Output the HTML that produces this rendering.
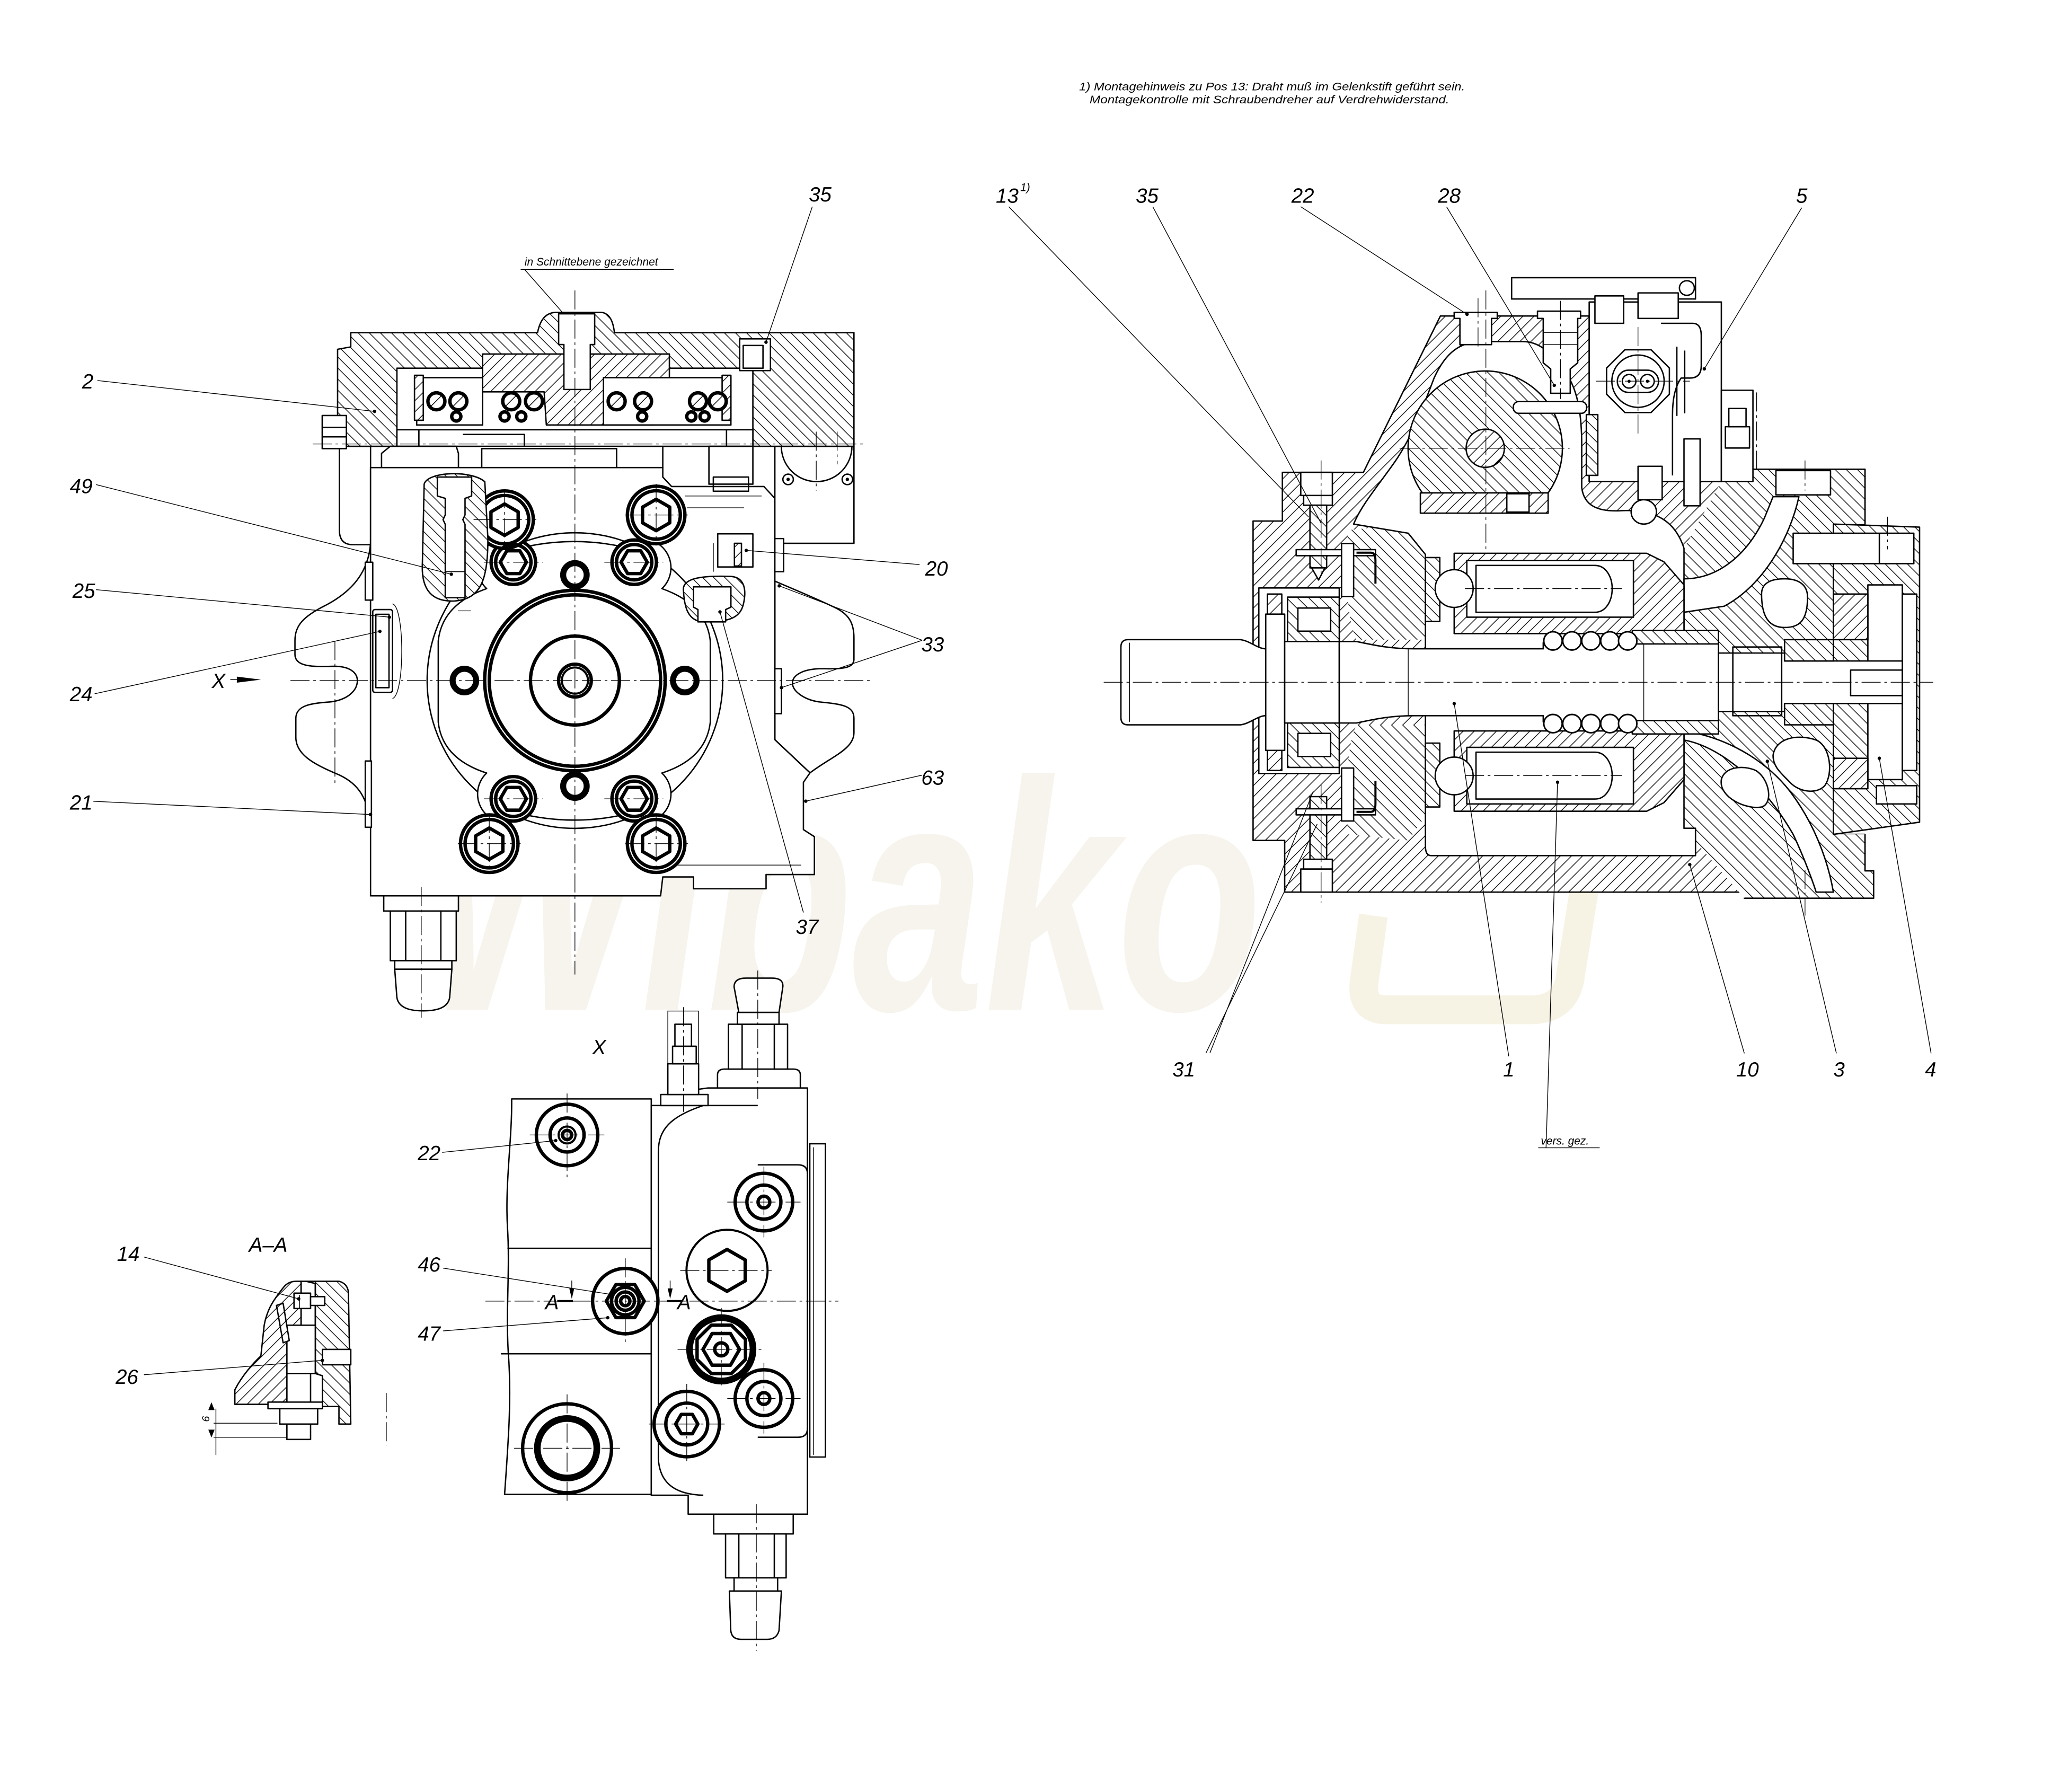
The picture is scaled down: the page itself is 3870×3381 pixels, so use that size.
<!DOCTYPE html>
<html><head><meta charset="utf-8"><style>
html,body{margin:0;padding:0;background:#fff}
svg{display:block}
.s{stroke:#000;stroke-width:2.6;vector-effect:non-scaling-stroke;stroke-linejoin:round}
.o{fill:none;stroke:#000;stroke-width:2.6;vector-effect:non-scaling-stroke;stroke-linejoin:round}
.t{fill:none;stroke:#000;stroke-width:1.4;vector-effect:non-scaling-stroke}
.c{fill:none;stroke:#000;stroke-width:1.3;stroke-dasharray:36 7 5 7;vector-effect:non-scaling-stroke}
.k{fill:none;stroke:#000;stroke-width:4;vector-effect:non-scaling-stroke}
.l{font-family:"Liberation Sans",sans-serif;font-style:italic;font-size:15.6px;fill:#000;text-anchor:middle}
.n{font-family:"Liberation Sans",sans-serif;font-style:italic;font-size:8.5px;fill:#000}
</style></head><body>
<svg xmlns="http://www.w3.org/2000/svg" width="3870" height="3381" viewBox="0 0 1568 1370">
<defs>
<pattern id="hA" patternUnits="userSpaceOnUse" width="6" height="6" patternTransform="rotate(45)"><rect width="6" height="6" fill="#fff"/><line x1="3" y1="-1" x2="3" y2="7" stroke="#000" stroke-width="0.55"/></pattern>
<pattern id="hB" patternUnits="userSpaceOnUse" width="6" height="6" patternTransform="rotate(-45)"><rect width="6" height="6" fill="#fff"/><line x1="3" y1="-1" x2="3" y2="7" stroke="#000" stroke-width="0.55"/></pattern>
<pattern id="hLA" patternUnits="userSpaceOnUse" width="6" height="6" patternTransform="scale(2.976 2.764) rotate(45)"><rect width="6" height="6" fill="#fff"/><line x1="3" y1="-1" x2="3" y2="7" stroke="#000" stroke-width="0.55"/></pattern>
<pattern id="hLB" patternUnits="userSpaceOnUse" width="6" height="6" patternTransform="scale(2.976 2.764) rotate(-45)"><rect width="6" height="6" fill="#fff"/><line x1="3" y1="-1" x2="3" y2="7" stroke="#000" stroke-width="0.55"/></pattern>
<pattern id="hRA" patternUnits="userSpaceOnUse" width="6" height="6" patternTransform="scale(2.276 2.150) rotate(45)"><rect width="6" height="6" fill="#fff"/><line x1="3" y1="-1" x2="3" y2="7" stroke="#000" stroke-width="0.55"/></pattern>
<pattern id="hRB" patternUnits="userSpaceOnUse" width="6" height="6" patternTransform="scale(2.276 2.150) rotate(-45)"><rect width="6" height="6" fill="#fff"/><line x1="3" y1="-1" x2="3" y2="7" stroke="#000" stroke-width="0.55"/></pattern>
<pattern id="hXA" patternUnits="userSpaceOnUse" width="6" height="6" patternTransform="scale(2.764 2.977) rotate(45)"><rect width="6" height="6" fill="#fff"/><line x1="3" y1="-1" x2="3" y2="7" stroke="#000" stroke-width="0.55"/></pattern>
<pattern id="hXB" patternUnits="userSpaceOnUse" width="6" height="6" patternTransform="scale(2.764 2.977) rotate(-45)"><rect width="6" height="6" fill="#fff"/><line x1="3" y1="-1" x2="3" y2="7" stroke="#000" stroke-width="0.55"/></pattern>
</defs>
<rect width="1568" height="1370" fill="#fff"/>
<text x="320" y="772" font-family="Liberation Sans,sans-serif" font-weight="bold" font-style="italic" font-size="250" fill="#f6f4ec" textLength="645" lengthAdjust="spacingAndGlyphs">Wibako</text>
<path d="M1075,615 Q1060,600 1080,600 L1200,600 Q1225,600 1220,625 L1200,750 Q1195,772 1170,772 L1060,772 Q1040,772 1043,750 L1050,700" fill="none" stroke="#f7f3e4" stroke-width="22"/>

<!-- top note -->
<text class="n" x="825" y="69" textLength="295" lengthAdjust="spacingAndGlyphs">1) Montagehinweis zu Pos 13: Draht muß im Gelenkstift geführt sein.</text>
<text class="n" x="833" y="79" textLength="275" lengthAdjust="spacingAndGlyphs">Montagekontrolle mit Schraubendreher auf Verdrehwiderstand.</text>

<!-- ================= LEFT VIEW ================= -->
<g transform="translate(202.6 162.1) scale(0.336 0.3618)">
 <path class="s" fill="#fff" d="M169,495 L240,495 L240,703 L200,703 Q169,703 169,672 Z"/>
 <path class="s" fill="#fff" d="M240,700 C235,760 200,800 140,830 C85,855 68,875 68,905 L68,935 C68,958 100,962 150,960 C195,958 210,975 210,990 C210,1010 190,1030 150,1035 C105,1038 70,1042 70,1070 L70,1110 C70,1150 120,1170 170,1190 C215,1210 232,1240 240,1290 Z"/>
 <path class="s" fill="#fff" d="M1160,780 C1210,800 1250,815 1295,835 C1330,850 1340,870 1340,900 L1340,945 C1340,968 1300,965 1260,965 C1215,967 1200,983 1200,995 C1200,1012 1225,1030 1260,1035 C1310,1040 1340,1042 1340,1070 L1340,1100 C1340,1135 1290,1150 1240,1185 L1160,1115 Z"/>
 <path class="s" fill="#fff" d="M240,540 L905,540 L905,560 L925,580 L1135,580 L1160,605 L1160,1115 L1240,1185 L1225,1205 L1225,1305 L1250,1320 L1250,1400 L1140,1400 L1140,1430 L975,1430 L975,1405 L905,1405 L900,1445 L240,1445 Z"/>
 <rect class="s" fill="#fff" x="1160" y="495" width="180" height="205"/>
 <path class="s" fill="url(#hLB)" d="M165,290 L195,285 L195,255 L620,255 C625,232 635,214 660,212 L765,212 C785,214 792,232 795,255 L1340,255 L1340,495 L1110,495 L1110,330 L300,330 L300,495 L165,495 Z"/>
 <path class="s" fill="url(#hLA)" d="M495,300 L920,300 L920,380 L895,380 L885,450 L640,450 L635,380 L495,380 Z"/>
 <path class="s" fill="#fff" d="M668,215 L750,215 L750,280 L740,280 L740,375 L680,375 L680,280 L668,280 Z"/>
 <rect class="s" fill="#fff" x="345" y="350" width="150" height="100"/>
 <rect class="s" fill="#fff" x="770" y="350" width="290" height="100"/>
 <rect class="s" fill="url(#hLA)" x="340" y="345" width="20" height="95"/>
 <rect class="s" fill="url(#hLA)" x="1040" y="345" width="20" height="95"/>
 <rect class="s" fill="#fff" x="1080" y="268" width="70" height="67"/>
 <rect class="o" x="1088" y="282" width="45" height="48"/>
 <rect class="s" fill="#fff" x="300" y="460" width="810" height="35"/>
 <path class="o" d="M350,460 L350,495 M1050,460 L1050,495 M450,470 L590,470 L590,495"/>
 <rect class="s" fill="#fff" x="130" y="430" width="55" height="70"/>
 <path class="o" d="M130,455 L185,455 M130,475 L185,475"/>
 <path class="s" fill="#fff" d="M265,540 L265,510 L285,495 L435,495 L440,510 L440,540 Z"/>
 <rect class="s" fill="#fff" x="1010" y="495" width="100" height="80"/>
 <rect class="o" x="1020" y="560" width="80" height="30"/>
 <path class="o" d="M493,540 L493,500 L800,500 L800,540 M905,540 L905,495"/>
 <rect class="s" fill="#fff" x="270" y="1445" width="170" height="32"/>
 <rect class="s" fill="#fff" x="285" y="1477" width="150" height="105"/>
 <path class="o" d="M320,1477 L320,1582 M400,1477 L400,1582"/>
 <rect class="s" fill="#fff" x="295" y="1582" width="130" height="18"/>
 <path class="s" fill="#fff" d="M295,1600 L425,1600 L420,1660 Q415,1688 360,1688 Q305,1688 300,1660 Z"/>
 <rect class="s" fill="#fff" x="228" y="740" width="17" height="80"/>
 <rect class="s" fill="#fff" x="228" y="1160" width="14" height="140"/>
 <rect class="s" fill="#fff" x="1160" y="690" width="20" height="70"/>
 <rect class="s" fill="#fff" x="1160" y="965" width="15" height="95"/>
 <rect class="s" fill="#fff" x="1030" y="680" width="80" height="70"/>
 <rect class="s" fill="url(#hLA)" x="1068" y="700" width="16" height="48"/>
 <path class="t" d="M290,828 C318,835 318,1020 290,1028"/>
 <rect class="s" fill="#fff" x="245" y="840" width="45" height="175" rx="5"/>
 <rect class="o" x="252" y="850" width="30" height="155"/>
 <path class="t" d="M955,600 L1130,600 M960,625 L1090,625 M1020,700 L1020,760"/>
 <path class="t" d="M910,1380 L1220,1380"/>
</g>

<!-- flange and circles -->
<circle class="s" fill="#fff" cx="439.5" cy="520.3" r="113"/>
<path class="s" fill="#fff" d="M335,490 Q338,462 372,450 A20,20 0 0 1 402,418 Q439,410 476,418 A20,20 0 0 1 506,450 Q540,462 543,490 L543,552 Q540,580 506,591 A20,20 0 0 1 476,623 Q439,631 402,623 A20,20 0 0 1 372,591 Q338,580 335,552 Z"/>
<g class="o">
 <circle cx="439.5" cy="520.3" r="69"/><circle cx="439.5" cy="520.3" r="65.5"/>
 <circle cx="439.5" cy="520.3" r="34"/><circle cx="439.5" cy="520.3" r="12.5"/>
 <circle cx="439.5" cy="439.5" r="10"/><circle cx="439.5" cy="439.5" r="8"/>
 <circle cx="439.5" cy="601" r="10"/><circle cx="439.5" cy="601" r="8"/>
 <circle cx="355" cy="520.3" r="10"/><circle cx="355" cy="520.3" r="8"/>
 <circle cx="523.5" cy="520.3" r="10"/><circle cx="523.5" cy="520.3" r="8"/>
</g>
<circle class="k" cx="439.5" cy="520.3" r="10"/>
<g class="s" fill="#fff">
 <circle cx="392.4" cy="429.8" r="17"/><circle cx="484.8" cy="429.8" r="17"/>
 <circle cx="392.4" cy="610.7" r="17"/><circle cx="484.8" cy="610.7" r="17"/>
 <circle cx="385.7" cy="397.3" r="22"/><circle cx="501.6" cy="393.7" r="22"/>
 <circle cx="374" cy="645" r="22"/><circle cx="501.6" cy="645" r="22"/>
</g>
<g class="o">
 <circle cx="392.4" cy="429.8" r="13.5"/><circle cx="484.8" cy="429.8" r="13.5"/>
 <circle cx="392.4" cy="610.7" r="13.5"/><circle cx="484.8" cy="610.7" r="13.5"/>
 <circle cx="385.7" cy="397.3" r="18.5"/><circle cx="501.6" cy="393.7" r="18.5"/>
 <circle cx="374" cy="645" r="18.5"/><circle cx="501.6" cy="645" r="18.5"/>
 <polygon points="402.4,429.8 397.4,438.5 387.4,438.5 382.4,429.8 387.4,421.1 397.4,421.1"/>
 <polygon points="494.8,429.8 489.8,438.5 479.8,438.5 474.8,429.8 479.8,421.1 489.8,421.1"/>
 <polygon points="402.4,610.7 397.4,619.4 387.4,619.4 382.4,610.7 387.4,602 397.4,602"/>
 <polygon points="494.8,610.7 489.8,619.4 479.8,619.4 474.8,610.7 479.8,602 489.8,602"/>
 <polygon points="385.7,385.3 396.1,391.3 396.1,403.3 385.7,409.3 375.3,403.3 375.3,391.3"/>
 <polygon points="501.6,381.7 512,387.7 512,399.7 501.6,405.7 491.2,399.7 491.2,387.7"/>
 <polygon points="374,633 384.4,639 384.4,651 374,657 363.6,651 363.6,639"/>
 <polygon points="501.6,633 512,639 512,651 501.6,657 491.2,651 491.2,639"/>
</g>
<g class="s" fill="#fff">
 <circle cx="333.6" cy="306.8" r="6.5"/><circle cx="350.4" cy="306.8" r="6.5"/>
 <circle cx="390.8" cy="306.8" r="6.5"/><circle cx="408.2" cy="306.8" r="6.5"/>
 <circle cx="471.4" cy="306.8" r="6.5"/><circle cx="491.6" cy="306.8" r="6.5"/>
 <circle cx="533.6" cy="306.8" r="6.5"/><circle cx="548.7" cy="306.8" r="6.5"/>
 <circle cx="348.8" cy="318.4" r="3.5"/><circle cx="385.7" cy="318.4" r="3.5"/>
 <circle cx="398.5" cy="318.4" r="3.5"/><circle cx="490.9" cy="318.4" r="3.5"/>
 <circle cx="528.5" cy="318.4" r="3.5"/><circle cx="538.6" cy="318.4" r="3.5"/>
</g>
<path class="t" d="M329,311 L338,302 M346,311 L355,302 M386,311 L395,302 M404,311 L413,302 M467,311 L476,302 M487,311 L496,302 M529,311 L538,302 M544,311 L553,302"/>
<path class="o" d="M597.3,341.2 A27,27 0 0 0 651.3,341.2"/>
<circle class="o" cx="602.5" cy="366.5" r="4"/><circle class="o" cx="647.8" cy="366.5" r="4"/>
<circle cx="602.5" cy="366.5" r="1.3"/><circle cx="647.8" cy="366.5" r="1.3"/>

<g transform="translate(202.6 162.1) scale(0.336 0.3618)">
 <path class="s" fill="url(#hLB)" d="M362,575 C370,548 470,545 500,570 L507,690 C507,780 490,818 430,822 C372,824 355,790 358,740 Z"/>
 <path class="s" fill="#fff" d="M392,560 L470,560 L470,600 L455,605 L455,640 L450,650 L455,660 L455,815 L410,815 L410,660 L405,650 L410,640 L410,605 L392,600 Z"/>
 <path class="t" d="M410,760 L455,760"/>
 <path class="s" fill="url(#hLB)" d="M952,800 C948,772 1000,768 1060,770 C1092,772 1096,800 1088,830 C1080,860 1050,866 1000,866 C962,866 954,835 952,800 Z"/>
 <path class="s" fill="#fff" d="M975,792 L1060,792 L1060,835 L1048,840 L1048,866 L985,866 L985,840 L975,835 Z"/>
</g>

<path class="c" d="M439.5,222 L439.5,745 M222,520.3 L665,520.3 M239,339.4 L660,339.4 M322,678 L322,778 M256,490 L256,600 M350,467 L360,467 M640,330 L640,355 M624,330 L624,375"/>
<path class="c" d="M362,397.3 L410,397.3 M385.7,374 L385.7,420 M478,393.7 L526,393.7 M501.6,370 L501.6,417 M350,645 L398,645 M374,622 L374,668 M478,645 L526,645 M501.6,622 L501.6,668 M370,429.8 L415,429.8 M462,429.8 L507,429.8 M370,610.7 L415,610.7 M462,610.7 L507,610.7"/>

<text class="n" x="401" y="203">in Schnittebene gezeichnet</text>
<path class="t" d="M398,206 L515,206 M401,206 L431,240"/>
<g class="l">
 <text x="627" y="154">35</text><text x="67" y="297">2</text><text x="62" y="377">49</text>
 <text x="64" y="457">25</text><text x="62" y="536">24</text><text x="62" y="619">21</text>
 <text x="167" y="526">X</text>
 <text x="716" y="440">20</text><text x="713" y="498">33</text><text x="713" y="600">63</text><text x="617" y="714">37</text>
</g>
<path class="t" d="M621,158 L585.6,261.6 M74.4,290.9 L286.3,314.5 M73.4,370.5 L345,439 M73.4,450.8 L297.6,471.8 M72.3,530.4 L290.4,482.7 M71.3,612.6 L283.2,622.7 M703,431.6 L570.5,420.8 M705,489.5 L595.7,447.9 M705,489.5 L597.4,525.7 M705,592.6 L616,612.5 M614.2,697.6 L550.4,467.8 M176,519.6 L183,519.6"/>
<polygon points="181,517.3 199.5,519.6 181,521.9" fill="#000"/>
<g fill="#000"><circle cx="585.6" cy="261.6" r="1.3"/><circle cx="286.3" cy="314.5" r="1.3"/><circle cx="345" cy="439" r="1.3"/><circle cx="297.6" cy="471.8" r="1.3"/><circle cx="290.4" cy="482.7" r="1.3"/><circle cx="283.2" cy="622.7" r="1.3"/><circle cx="570.5" cy="420.8" r="1.3"/><circle cx="595.7" cy="447.9" r="1.3"/><circle cx="597.4" cy="525.7" r="1.3"/><circle cx="616" cy="612.5" r="1.3"/><circle cx="550.4" cy="467.8" r="1.3"/></g>

<!-- ================= RIGHT SECTION VIEW ================= -->
<g transform="translate(830.6 121.6) scale(0.4393 0.4651)">
 <path class="s" fill="url(#hRA)" d="M290,595 L341,595 L341,515 L482,515 L616,258 L875,258 L875,530 L1105,530 L1150,510 L1355,510 L1355,600 L1300,600 L1300,1110 L1355,1110 L1355,1170 L1370,1170 L1370,1215 L1145,1215 L1145,1205 L345,1205 L345,1120 L290,1120 Z"/>
 <path fill="url(#hRB)" d="M1040,640 L1105,530 L1150,510 L1355,510 L1355,600 L1300,600 L1300,1110 L1355,1110 L1355,1170 L1370,1170 L1370,1215 L1145,1215 L1040,1100 Z"/>
 <path class="o" d="M1150,510 L1355,510 L1355,600 M1355,1110 L1355,1170 L1370,1170 L1370,1215 L1145,1215"/>
 <path fill="url(#hRB)" stroke="none" d="M455,610 L560,600 L590,640 L590,790 L470,790 C455,760 450,700 455,610 Z M470,930 L590,930 L590,1080 L560,1120 L455,1110 C450,1020 455,960 470,930 Z"/>
 <path class="s" fill="url(#hRB)" d="M1300,600 L1450,605 L1450,1090 L1300,1110 Z"/>
 <path class="s" fill="#fff" d="M465,600 C478,570 505,540 535,500 C565,460 585,410 605,360 C625,318 650,300 690,300 L760,300 C795,300 820,330 840,360 C855,385 862,420 862,470 L862,540 C866,570 890,580 930,578 C990,575 1025,595 1040,640 L1040,1100 L1060,1100 L1060,1145 L600,1145 Q590,1145 590,1130 L590,650 L560,615 Z"/>
 <rect class="s" fill="#fff" x="875" y="235" width="230" height="295"/>
 <rect class="s" fill="url(#hRB)" x="870" y="420" width="20" height="100"/>
 <path class="s" fill="#fff" d="M1040,690 C1100,690 1150,650 1180,590 L1195,555 L1240,555 C1225,620 1180,700 1110,735 L1040,745 Z"/>
 <rect class="s" fill="#fff" x="1200" y="512" width="95" height="40"/>
 <path class="s" fill="#fff" d="M1175,715 C1175,695 1195,690 1215,690 C1240,690 1255,700 1255,720 C1255,760 1240,770 1215,770 C1190,770 1175,755 1175,715 Z"/>
 <path class="s" fill="#fff" d="M1040,955 C1100,965 1175,1020 1230,1110 C1250,1150 1265,1190 1270,1205 L1300,1205 C1290,1150 1265,1090 1225,1040 C1180,985 1110,950 1040,940 Z"/>
 <path class="s" fill="#fff" d="M1105,1020 C1110,1000 1140,995 1165,1005 C1190,1020 1195,1060 1175,1065 C1150,1070 1100,1050 1105,1020 Z"/>
 <path class="s" fill="#fff" d="M1195,980 C1200,950 1240,945 1270,955 C1295,965 1300,1010 1285,1030 C1270,1045 1240,1040 1225,1025 C1210,1010 1195,1000 1195,980 Z"/>
 <rect class="s" fill="#fff" x="1360" y="700" width="60" height="320"/>
 <rect class="s" fill="#fff" x="1420" y="715" width="25" height="290"/>
 <rect class="s" fill="url(#hRA)" x="1300" y="715" width="60" height="75"/>
 <rect class="s" fill="url(#hRA)" x="1300" y="985" width="60" height="50"/>
 <rect class="s" fill="#fff" x="1230" y="615" width="210" height="50"/>
 <path class="o" d="M1380,615 L1380,665"/>
 <rect class="s" fill="#fff" x="1375" y="1030" width="70" height="30"/>
 <rect class="s" fill="#fff" x="300" y="705" width="140" height="305"/>
 <rect class="s" fill="url(#hRB)" x="350" y="720" width="90" height="73"/>
 <rect class="s" fill="#fff" x="368" y="738" width="57" height="38"/>
 <rect class="s" fill="url(#hRB)" x="350" y="927" width="90" height="73"/>
 <rect class="s" fill="#fff" x="368" y="944" width="57" height="38"/>
 <rect class="s" fill="url(#hRA)" x="315" y="715" width="25" height="75"/>
 <rect class="s" fill="url(#hRA)" x="315" y="930" width="25" height="75"/>
 <rect class="s" fill="#fff" x="373" y="515" width="55" height="38"/>
 <rect class="s" fill="#fff" x="378" y="553" width="50" height="16"/>
 <rect class="s" fill="url(#hRB)" x="389" y="569" width="29" height="103"/>
 <path class="s" fill="#fff" d="M392,672 L415,672 L404,692 Z"/>
 <rect class="s" fill="#fff" x="365" y="642" width="138" height="10"/>
 <path class="k" d="M470,647 L495,647 Q503,647 503,660 L503,698"/>
 <rect class="s" fill="#fff" x="444" y="632" width="21" height="87"/>
 <rect class="s" fill="#fff" x="373" y="1167" width="55" height="38"/>
 <rect class="s" fill="#fff" x="378" y="1151" width="50" height="16"/>
 <rect class="s" fill="url(#hRB)" x="389" y="1048" width="29" height="103"/>
 <rect class="s" fill="#fff" x="365" y="1068" width="138" height="10"/>
 <path class="k" d="M470,1073 L495,1073 Q503,1073 503,1060 L503,1022"/>
 <rect class="s" fill="#fff" x="444" y="1001" width="21" height="87"/>
 <path class="s" fill="#fff" d="M72,790 L268,790 C285,792 298,805 312,805 L312,915 C298,915 285,928 268,930 L72,930 Q60,930 60,918 L60,802 Q60,790 72,790 Z"/>
 <path class="t" d="M75,795 L75,925"/>
 <rect class="s" fill="#fff" x="312" y="748" width="33" height="224"/>
 <rect class="s" fill="#fff" x="345" y="793" width="95" height="134"/>
 <path class="s" fill="#fff" d="M440,793 L470,793 C505,800 530,805 570,805 L795,805 L795,795 L1100,795 L1100,925 L795,925 L795,915 L570,915 C530,915 505,920 470,927 L440,927 Z"/>
 <path class="s" fill="#fff" d="M1100,812 L1215,812 L1215,825 L1420,825 L1420,895 L1215,895 L1215,908 L1100,908 Z"/>
 <rect class="o" x="1125" y="802" width="85" height="113"/>
 <rect class="o" x="1330" y="840" width="90" height="42"/>
 <rect class="s" fill="url(#hRB)" x="1215" y="790" width="85" height="35"/>
 <rect class="s" fill="url(#hRB)" x="1215" y="895" width="85" height="35"/>
 <path class="t" d="M970,795 L970,925 M560,805 L560,915"/>
 <path class="s" fill="url(#hRA)" d="M640,648 L975,648 L1005,662 L1040,700 L1040,775 L955,775 L955,780 L640,780 Z"/>
 <path class="s" fill="url(#hRA)" d="M640,1072 L975,1072 L1005,1058 L1040,1020 L1040,945 L955,945 L955,940 L640,940 Z"/>
 <rect class="s" fill="url(#hRB)" x="950" y="775" width="150" height="22"/>
 <rect class="s" fill="url(#hRB)" x="950" y="923" width="150" height="22"/>
 <rect class="s" fill="#fff" x="662" y="660" width="290" height="93"/>
 <rect class="s" fill="#fff" x="662" y="967" width="290" height="93"/>
 <path class="s" fill="#fff" d="M678,668 L885,668 C905,668 915,688 915,706 C915,725 905,745 885,745 L678,745 Z"/>
 <path class="s" fill="#fff" d="M678,1052 L885,1052 C905,1052 915,1032 915,1014 C915,995 905,975 885,975 L678,975 Z"/>
 <rect class="s" fill="url(#hRB)" x="590" y="655" width="25" height="105"/>
 <rect class="s" fill="url(#hRB)" x="590" y="960" width="25" height="105"/>
 <ellipse class="s" fill="#fff" cx="640" cy="706" rx="33" ry="31"/>
 <ellipse class="s" fill="#fff" cx="640" cy="1014" rx="33" ry="31"/>
 <g class="s" fill="#fff">
  <ellipse cx="812" cy="792" rx="16" ry="15"/><ellipse cx="845" cy="792" rx="16" ry="15"/><ellipse cx="878" cy="792" rx="16" ry="15"/><ellipse cx="911" cy="792" rx="16" ry="15"/><ellipse cx="942" cy="792" rx="16" ry="15"/>
  <ellipse cx="812" cy="928" rx="16" ry="15"/><ellipse cx="845" cy="928" rx="16" ry="15"/><ellipse cx="878" cy="928" rx="16" ry="15"/><ellipse cx="911" cy="928" rx="16" ry="15"/><ellipse cx="942" cy="928" rx="16" ry="15"/>
 </g>
 <path class="s" fill="#fff" d="M640,252 L715,252 L715,262 L705,262 L705,305 L650,305 L650,262 L640,262 Z"/>
 <path class="s" fill="#fff" d="M785,250 L860,250 L860,262 L855,262 L855,335 L842,345 L842,385 L808,385 L808,345 L795,335 L795,262 L785,262 Z"/>
 <path class="t" d="M795,285 L855,285 M795,305 L855,305"/>
 <rect class="s" fill="#fff" x="740" y="195" width="320" height="35"/>
 <ellipse class="o" cx="1045" cy="212" rx="13" ry="12"/>
 <rect class="s" fill="#fff" x="885" y="225" width="50" height="45"/>
 <rect class="s" fill="#fff" x="960" y="220" width="70" height="42"/>
 <rect class="s" fill="#fff" x="1105" y="380" width="55" height="150"/>
 <rect class="s" fill="#fff" x="1112" y="440" width="42" height="35"/>
 <rect class="o" x="1118" y="410" width="30" height="30"/>
 <rect class="s" fill="#fff" x="1040" y="460" width="28" height="110"/>
 <rect class="s" fill="#fff" x="960" y="505" width="42" height="55"/>
 <ellipse class="s" fill="#fff" cx="970" cy="580" rx="22" ry="20"/>
 <path class="o" d="M1000,270 L1055,270 Q1070,270 1070,290 L1070,340 Q1070,360 1050,360 L1035,360 Q1020,380 1020,420 L1020,520"/>
</g>

<path class="s" fill="url(#hB)" d="M1087.4,376.8 A59,59 0 1 1 1183.6,376.8 Z"/>
<circle class="s" fill="url(#hA)" cx="1135.5" cy="342.7" r="14.6"/>
<rect class="s" fill="url(#hA)" x="1085.9" y="376.8" width="97.7" height="15.5"/>
<rect class="s" fill="#fff" x="1152" y="377.5" width="17" height="14"/>
<rect class="s" fill="#fff" x="1157" y="307" width="56" height="9" rx="4"/>
<polygon class="s" fill="#fff" points="1276.3,301.4 1262.3,315.4 1242.3,315.4 1228.3,301.4 1228.3,281.4 1242.3,267.4 1262.3,267.4 1276.3,281.4"/>
<circle class="o" cx="1252.3" cy="291.4" r="20"/>
<rect class="s" fill="#fff" x="1236.5" y="283" width="31.5" height="17" rx="8.5"/>
<circle class="o" cx="1245.5" cy="291.5" r="5.2"/><circle class="o" cx="1259.5" cy="291.5" r="5.2"/>
<circle cx="1245.5" cy="291.5" r="1.2"/><circle cx="1259.5" cy="291.5" r="1.2"/>
<path class="o" d="M1282,265 L1282,318 M1288,268 L1288,316"/>

<path class="c" d="M843.8,521.6 L1478,521.6 M1136,222 L1136,420 M1070,342.7 L1200,342.7 M1010,352 L1010,440 M1010,600 L1010,690 M1252.3,250 L1252.3,332 M1220,291.4 L1292,291.4 M1130,228 L1130,265 M1120,450 L1240,450 M1120,593 L1240,593 M1380,352 L1380,375 M1380,665 L1380,700 M1193,230 L1193,305 M1343,300 L1343,360 M1443,395 L1443,420"/>

<g class="l">
 <text x="770" y="155">13</text><text x="877" y="155">35</text><text x="996" y="155">22</text><text x="1108" y="155">28</text><text x="1377.5" y="155">5</text>
 <text x="905" y="823">31</text><text x="1153.5" y="823">1</text><text x="1336" y="823">10</text><text x="1406" y="823">3</text><text x="1476" y="823">4</text>
</g>
<text x="780" y="146" font-family="Liberation Sans,sans-serif" font-style="italic" font-size="8.5">1)</text>
<text class="n" x="1178" y="875">vers. gez.</text>
<path class="t" d="M1176,877.5 L1223,877.5 M1182,877.5 L1190.8,598 M771.2,158 L1000.6,395.4 M881.3,158 L1010,400 M994.4,158 L1121.6,240.3 M1106,158.2 L1188.3,294.6 M1377.5,158.8 L1303,282 M925,805 L1004,605 M922,805 L1007,630 M1153.5,807.6 L1111.8,537.9 M1333.6,805.3 L1291.9,661 M1404,805.3 L1351.2,582 M1476.4,805.3 L1436.8,579.7"/>
<g fill="#000"><circle cx="1121.6" cy="240.3" r="1.3"/><circle cx="1188.3" cy="294.6" r="1.3"/><circle cx="1303" cy="282" r="1.3"/><circle cx="1111.8" cy="537.9" r="1.3"/><circle cx="1291.9" cy="661" r="1.3"/><circle cx="1351.2" cy="582" r="1.3"/><circle cx="1436.8" cy="579.7" r="1.3"/><circle cx="1190.8" cy="598" r="1.3"/></g>

<!-- ================= X VIEW ================= -->
<g transform="translate(121.6 729.3) scale(0.3618 0.3359)">
 <path class="s" fill="#fff" d="M745,330 L1040,330 L1040,1230 L730,1230 C738,1110 745,1010 738,910 C732,810 742,720 736,620 C731,520 746,420 745,330 Z"/>
 <path class="o" d="M736,670 L1040,670 M722,910 L1040,910"/>
 <path class="s" fill="#fff" d="M1040,345 L1140,345 L1140,308 L1160,305 L1370,305 L1370,1275 L1118,1275 L1118,1232 L1040,1232 Z"/>
 <path class="o" d="M1150,345 C1080,370 1055,400 1055,450 L1055,1150 C1058,1200 1085,1230 1150,1232 M1150,345 L1265,345 M1265,480 L1350,480 Q1370,480 1370,500 M1265,1100 L1350,1100 Q1370,1100 1370,1080"/>
 <rect class="s" fill="#fff" x="1375" y="432" width="33" height="713"/>
 <path class="t" d="M1383,440 L1383,1140"/>
 <path class="s" fill="#fff" d="M1180,305 L1180,275 Q1180,262 1195,262 L1340,262 Q1355,262 1355,275 L1355,305 Z"/>
 <rect class="s" fill="#fff" x="1203" y="160" width="125" height="102"/>
 <path class="o" d="M1232,160 L1232,262 M1300,160 L1300,262"/>
 <rect class="s" fill="#fff" x="1222" y="133" width="88" height="27"/>
 <path class="s" fill="#fff" d="M1225,133 L1215,75 Q1215,55 1240,55 L1295,55 Q1320,55 1318,75 L1310,133 Z"/>
 <rect class="t" x="1075" y="130" width="65" height="120"/>
 <rect class="s" fill="#fff" x="1060" y="320" width="100" height="25"/>
 <rect class="s" fill="#fff" x="1075" y="250" width="65" height="70"/>
 <rect class="s" fill="#fff" x="1085" y="210" width="50" height="40"/>
 <rect class="s" fill="#fff" x="1090" y="160" width="35" height="50"/>
 <rect class="s" fill="#fff" x="1172" y="1275" width="168" height="45"/>
 <rect class="s" fill="#fff" x="1197" y="1320" width="128" height="100"/>
 <path class="o" d="M1225,1320 L1225,1420 M1300,1320 L1300,1420"/>
 <rect class="s" fill="#fff" x="1215" y="1420" width="92" height="30"/>
 <path class="s" fill="#fff" d="M1205,1450 L1315,1450 L1310,1540 Q1305,1560 1285,1560 L1230,1560 Q1210,1560 1208,1540 Z"/>
 <path class="s" fill="url(#hXA)" d="M160,1025 L160,992 C175,960 200,930 215,915 L222,845 C228,810 240,790 262,760 Q272,745 290,745 L300,745 L300,1020 L240,1020 L240,1025 Z"/>
 <path class="s" fill="url(#hXB)" d="M310,745 L380,745 Q398,750 400,770 L405,1070 L380,1070 L380,1030 L345,1030 L345,960 L330,955 L330,750 Z"/>
 <path class="o" d="M300,745 L310,745 M300,745 L300,1020 M330,750 L330,955"/>
 <rect class="s" fill="#fff" x="270" y="845" width="60" height="110"/>
 <path class="s" fill="url(#hXA)" d="M248,800 L262,795 L275,880 L262,885 Z"/>
 <rect class="s" fill="#fff" x="285" y="772" width="35" height="35"/>
 <rect class="s" fill="#fff" x="320" y="780" width="30" height="20"/>
 <rect class="s" fill="#fff" x="345" y="900" width="60" height="35"/>
 <rect class="s" fill="#fff" x="270" y="955" width="50" height="68"/>
 <rect class="s" fill="#fff" x="230" y="1020" width="115" height="15"/>
 <rect class="s" fill="#fff" x="255" y="1035" width="80" height="35"/>
 <rect class="s" fill="#fff" x="270" y="1070" width="50" height="35"/>
 <path class="t" d="M115,1068 L250,1068 M115,1100 L270,1100 M120,1035 L120,1140"/>
</g>
<path class="c" d="M295.3,1065 L295.3,1105 M229,990 L229,1000"/>
<polygon points="161.6,1072 164,1078 159.2,1078" fill="#000"/>
<polygon points="161.6,1099 164,1093 159.2,1093" fill="#000"/>
<text x="0" y="0" font-family="Liberation Sans,sans-serif" font-style="italic" font-size="8" transform="translate(160 1087) rotate(-90)">6</text>

<g class="s" fill="#fff">
 <circle cx="433.5" cy="867.7" r="23.5"/>
 <circle cx="478" cy="994.7" r="25"/>
 <circle cx="433.5" cy="1107.2" r="34"/>
 <circle cx="584" cy="919" r="22"/>
 <circle cx="584" cy="1069.2" r="22"/>
 <circle cx="525" cy="1088.7" r="25"/>
 <circle cx="551.4" cy="1031.6" r="25.5"/>
</g>
<circle cx="555.8" cy="971.2" r="31" fill="#fff" stroke="#000" stroke-width="4" vector-effect="non-scaling-stroke"/>
<g class="o">
 <circle cx="433.5" cy="867.7" r="13"/><circle cx="433.5" cy="867.7" r="3.5"/>
 <polygon points="492.5,994.7 485.3,1007.3 470.8,1007.3 463.5,994.7 470.8,982.1 485.3,982.1"/>
 <circle cx="478" cy="994.7" r="10.5"/><circle cx="478" cy="994.7" r="7"/><circle cx="478" cy="994.7" r="3.5"/>
 <circle cx="433.5" cy="1107.2" r="24"/><circle cx="433.5" cy="1107.2" r="21.5"/>
 <polygon points="555.8,955.2 569.7,963.2 569.7,979.2 555.8,987.2 541.9,979.2 541.9,963.2"/>
 <circle cx="551.4" cy="1031.6" r="23"/>
 <polygon points="569.9,1039.3 559.1,1050.1 543.8,1050.1 532.9,1039.3 532.9,1023.9 543.8,1013.1 559.1,1013.1 569.9,1023.9"/>
 <polygon points="565.4,1031.6 558.4,1043.7 544.4,1043.7 537.4,1031.6 544.4,1019.5 558.4,1019.5"/>
 <circle cx="551.4" cy="1031.6" r="5"/>
 <circle cx="584" cy="919" r="13"/><circle cx="584" cy="919" r="4.5"/>
 <circle cx="584" cy="1069.2" r="13"/><circle cx="584" cy="1069.2" r="4.5"/>
 <circle cx="525" cy="1088.7" r="16"/>
 <polygon points="533.5,1088.7 529.3,1096.1 520.8,1096.1 516.5,1088.7 520.8,1081.3 529.3,1081.3"/>
</g>
<circle class="k" cx="433.5" cy="867.7" r="6.5"/>
<circle class="k" cx="478" cy="994.7" r="4"/>
<path class="c" d="M371,994.7 L641,994.7 M405,867.7 L462,867.7 M433.5,836 L433.5,900 M393,1107.2 L474,1107.2 M433.5,1066 L433.5,1148 M556,919 L612,919 M584,892 L584,946 M556,1069.2 L612,1069.2 M584,1042 L584,1096 M496,1088.7 L554,1088.7 M525,1058 L525,1118 M579.3,742 L579.3,840 M522.5,770 L522.5,850 M578.2,1150 L578.2,1262 M551.4,1000 L551.4,1062 M518,1031.6 L585,1031.6 M478,962 L478,1028 M520,971.2 L590,971.2"/>
<path class="k" d="M426,994.7 L438,994.7 M510,994.7 L521,994.7"/>
<path class="t" d="M437.1,979 L437.1,990 M512.3,979 L512.3,990"/>
<polygon points="435.2,985 439,985 437.1,993" fill="#000"/>
<polygon points="510.4,985 514.2,985 512.3,993" fill="#000"/>
<g class="l">
 <text x="458" y="806">X</text><text x="328" y="887">22</text><text x="328" y="972">46</text><text x="328" y="1025">47</text>
 <text x="422" y="1001">A</text><text x="523" y="1001">A</text>
 <text x="205" y="957">A–A</text><text x="98" y="964">14</text><text x="97" y="1058">26</text>
</g>
<path class="t" d="M338,881 L424.8,872 M338.7,969.5 L467.1,989.6 M338.7,1017.5 L464.6,1007.4 M110,961 L228.3,993 M110,1051 L246.4,1040"/>
<g fill="#000"><circle cx="424.8" cy="872" r="1.3"/><circle cx="467.1" cy="989.6" r="1.3"/><circle cx="464.6" cy="1007.4" r="1.3"/><circle cx="228.3" cy="993" r="1.3"/><circle cx="246.4" cy="1040" r="1.3"/></g>
</svg>
</body></html>
